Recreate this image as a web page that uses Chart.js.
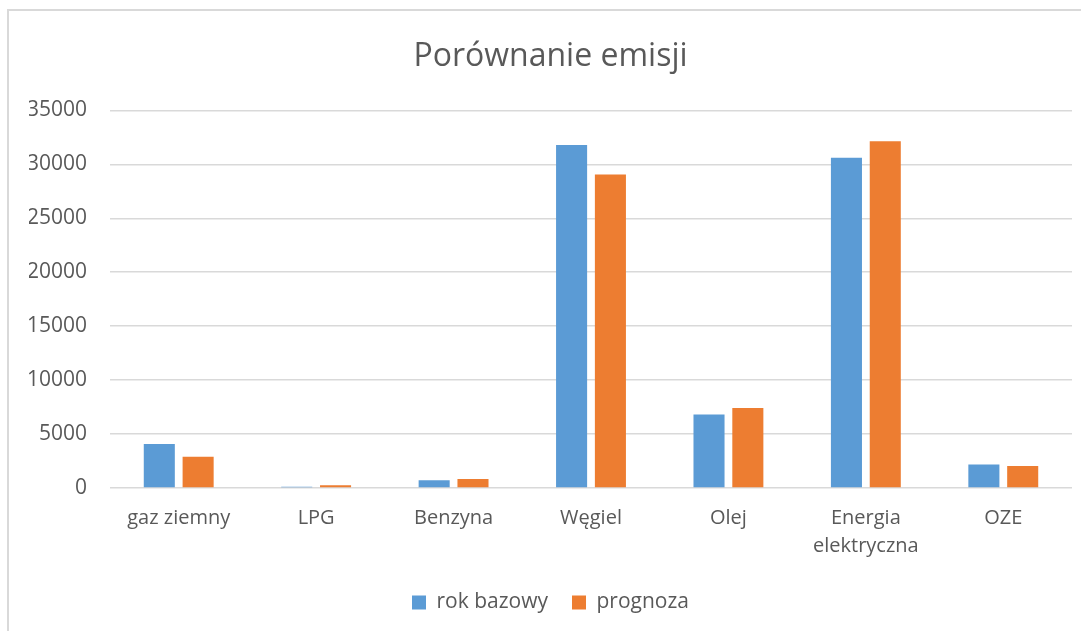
<!DOCTYPE html>
<html lang="pl">
<head>
<meta charset="utf-8">
<title>Porównanie emisji</title>
<script src="https://cdn.jsdelivr.net/npm/chart.js@4/dist/chart.umd.min.js"></script>
<style>
    html, body {
        margin: 0;
        padding: 0;
        background: #ffffff;
        overflow: hidden;
    }
    #frame {
        position: absolute;
        left: 7px;
        top: 9px;
        width: 1090px;
        height: 640px;
        border-top: 2px solid #d9d9d9;
        border-left: 2px solid #d9d9d9;
        overflow: hidden;
    }
    #chartBox {
        position: relative;
        width: 1085px;
        height: 620px;
    }
</style>
</head>
<body>
<div id="frame">
    <div id="chartBox"><canvas id="emisje"></canvas></div>
</div>
<script>
const categories = ['gaz ziemny', 'LPG', 'Benzyna', 'Węgiel', 'Olej', ['Energia', 'elektryczna'], 'OZE'];
const rokBazowy = [4070, 120, 720, 31800, 6820, 30600, 2170];
const prognoza = [2890, 250, 840, 29050, 7420, 32150, 2050];

const textColor = '#595959';
const gridColor = '#d9d9d9';
const fontFamily = '"Open Sans", "DejaVu Sans", sans-serif';

document.addEventListener('DOMContentLoaded', function () {
    const ctx = document.getElementById('emisje');

    new Chart(ctx, {
        type: 'bar',
        data: {
            labels: categories,
            datasets: [
                {
                    label: 'rok bazowy',
                    data: rokBazowy,
                    backgroundColor: '#5b9bd5'
                },
                {
                    label: 'prognoza',
                    data: prognoza,
                    backgroundColor: '#ed7d31'
                }
            ]
        },
        options: {
            responsive: true,
            maintainAspectRatio: false,
            animation: false,
            datasets: {
                bar: {
                    categoryPercentage: 0.565,
                    barPercentage: 0.8
                }
            },
            layout: {
                padding: { left: 20, right: 22, top: 0, bottom: 8 }
            },
            plugins: {
                title: {
                    display: true,
                    text: 'Porównanie emisji',
                    color: textColor,
                    font: { family: fontFamily, size: 32, weight: 'normal' },
                    padding: { top: 27, bottom: 34 }
                },
                legend: {
                    position: 'bottom',
                    labels: {
                        color: textColor,
                        font: { family: fontFamily, size: 21 },
                        boxWidth: 14,
                        boxHeight: 14,
                        padding: 24
                    }
                },
                tooltip: { enabled: false }
            },
            scales: {
                x: {
                    grid: { display: false },
                    border: { display: false },
                    ticks: {
                        color: textColor,
                        font: { family: fontFamily, size: 20, lineHeight: 1.4 },
                        padding: 8,
                        maxRotation: 0
                    }
                },
                y: {
                    min: 0,
                    max: 35000,
                    // fixed axis width so the plot starts where the labels end + gap
                    afterFit: (scale) => { scale.width = 81; },
                    grid: {
                        color: gridColor,
                        lineWidth: 1.5,
                        drawTicks: false
                    },
                    border: { display: false },
                    ticks: {
                        stepSize: 5000,
                        color: textColor,
                        font: { family: fontFamily, size: 21 },
                        padding: 23,
                        // plain integers, no thousands separator
                        callback: (value) => String(value)
                    }
                }
            }
        }
    });
});
</script>
</body>
</html>
